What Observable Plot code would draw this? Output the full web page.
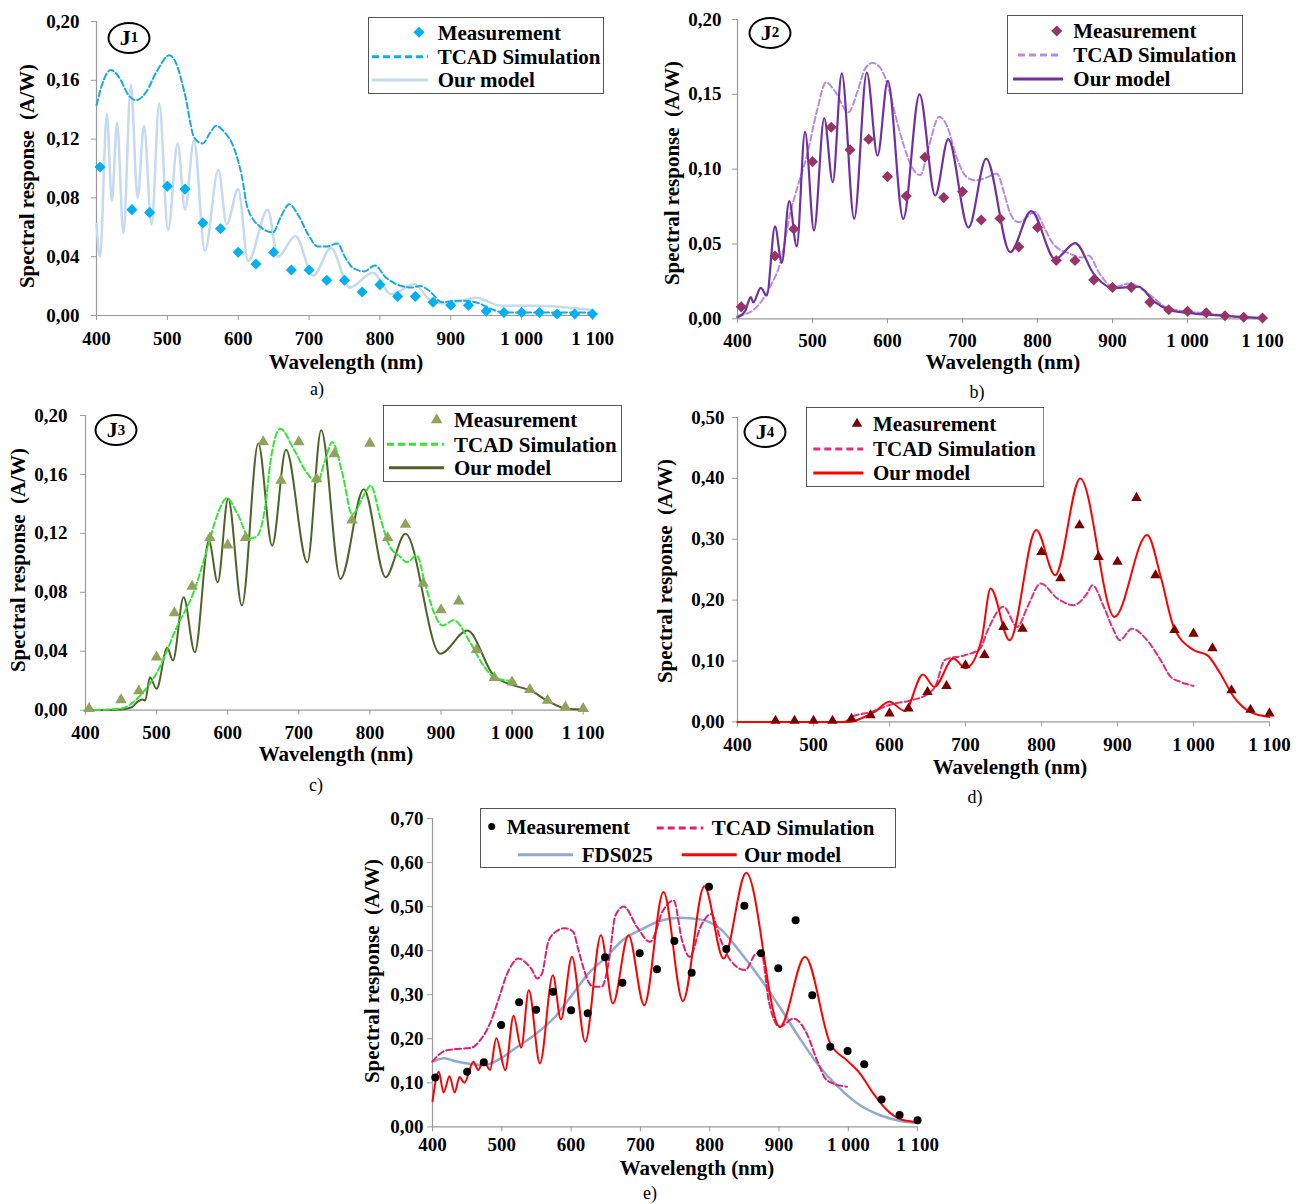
<!DOCTYPE html>
<html>
<head>
<meta charset="utf-8">
<script src="https://cdn.jsdelivr.net/npm/d3@7"></script>
<script src="https://cdn.jsdelivr.net/npm/@observablehq/plot@0.6"></script>
<style>
  body { margin: 0; background: #fff; }
  #page { position: relative; width: 1302px; height: 1204px; background: #fff; overflow: hidden;
          font-family: "Liberation Serif", "Times New Roman", serif; color: #000; }
  .xtitle, .ytitle { position: absolute; font-weight: bold; font-size: 21px; line-height: 1; white-space: pre; }
  .xtitle { transform: translate(-50%, -50%); }
  .ytitle { transform: translate(-50%, -50%) rotate(-90deg); }
  .cap { position: absolute; font-size: 18px; line-height: 1; transform: translate(-50%, -50%); }
  .jlab { position: absolute; width: 43px; height: 32px; border: 2px solid #000; border-radius: 50%;
          box-sizing: border-box; display: flex; align-items: center; justify-content: center;
          font-weight: bold; font-size: 22px; transform: translate(-50%, -50%); background: #fff; }
  .jlab sub { font-size: 15px; vertical-align: -6px; }
</style>
</head>
<body>
<div id="page"></div>
<script>
// ---- shared axis ticks ----
const xTicks = [400, 500, 600, 700, 800, 900, 1000, 1100];
const yTicksA = [0, 0.04, 0.08, 0.12, 0.16, 0.20];
const yTicksB = [0, 0.05, 0.10, 0.15, 0.20];
const yTicksC = [0, 0.04, 0.08, 0.12, 0.16, 0.20];
const yTicksD = [0, 0.10, 0.20, 0.30, 0.40, 0.50];
const yTicksE = [0, 0.10, 0.20, 0.30, 0.40, 0.50, 0.60, 0.70];

// ---- J1 : [wavelength nm, A/W] ----
const aMeas = [[405,0.101],[450,0.072],[475,0.070],[500,0.088],[525,0.086],[550,0.063],[575,0.059],[600,0.043],
  [625,0.035],[650,0.043],[675,0.031],[700,0.031],[725,0.024],[750,0.024],[775,0.016],[800,0.021],[825,0.013],
  [850,0.013],[875,0.009],[900,0.007],[925,0.007],[950,0.003],[975,0.002],[1000,0.002],[1025,0.002],[1050,0.001],
  [1075,0.001],[1100,0.001]];
const aTcad = [[400,0.143],[410,0.160],[420,0.167],[432,0.162],[445,0.150],[456,0.1465],[470,0.152],[485,0.166],
  [503,0.177],[512,0.172],[525,0.150],[538,0.121],[550,0.117],[560,0.124],[569,0.129],[580,0.125],[594,0.114],
  [605,0.095],[613,0.0735],[632,0.060],[649,0.0565],[660,0.067],[672,0.0757],[685,0.068],[700,0.054],[712,0.047],
  [725,0.047],[740,0.049],[751,0.0395],[763,0.032],[778,0.030],[793,0.034],[808,0.026],[825,0.021],[845,0.019],
  [857,0.020],[869,0.017],[888,0.009],[905,0.010],[916,0.010],[935,0.009],[959,0.004],[975,0.002],[1000,0.002],
  [1050,0.002],[1100,0.002]];
const aModel = [[400,0.062],[405,0.040],[414.6,0.137],[421.7,0.078],[429,0.131],[438,0.056],[448.5,0.157],[458,0.080],
  [467,0.129],[477.7,0.062],[488.5,0.144],[501,0.058],[514.5,0.117],[525,0.072],[537.5,0.119],[553,0.044],[572,0.099],
  [583.7,0.062],[600,0.086],[614,0.037],[641.6,0.072],[656,0.040],[680.7,0.054],[706,0.027],[731,0.046],[757,0.019],
  [790,0.029],[816,0.0145],[848.6,0.0213],[872,0.010],[895,0.008],[936,0.012],[971,0.0066],[1018,0.0066],[1100,0.0037]];

// ---- J2 ----
const bMeas = [[405,0.008],[450,0.042],[475,0.060],[500,0.105],[525,0.128],[550,0.113],[575,0.120],[600,0.095],
  [625,0.082],[650,0.108],[675,0.081],[700,0.085],[725,0.066],[750,0.067],[775,0.048],[800,0.061],[825,0.039],
  [850,0.039],[875,0.026],[900,0.021],[925,0.021],[950,0.011],[975,0.006],[1000,0.005],[1025,0.004],[1050,0.002],
  [1075,0.001],[1100,0.0005]];
const bTcad = [[400,0.002],[417,0.0045],[443,0.021],[459,0.041],[470,0.070],[480,0.088],[492,0.108],[506,0.139],
  [518,0.158],[530,0.152],[548,0.138],[560,0.152],[570,0.167],[580,0.171],[590,0.168],[601,0.155],[611,0.135],
  [621,0.117],[632,0.102],[644,0.096],[655,0.115],[669,0.135],[680,0.128],[692,0.108],[705,0.095],[717,0.0925],
  [730,0.094],[746,0.097],[755,0.085],[764,0.070],[775,0.0646],[797,0.0713],[810,0.060],[821,0.050],[843,0.0435],
  [860,0.041],[868,0.0423],[883,0.030],[901,0.021],[923,0.0236],[946,0.0174],[972,0.0076],[992,0.0053],[1020,0.004],
  [1050,0.002],[1100,0.000]];
const bModel = [[400,0.001],[410,0.005],[417.8,0.0145],[421,0.011],[431,0.0207],[439,0.0156],[450,0.0617],[459,0.0374],
  [469,0.0786],[479,0.0483],[490,0.125],[502,0.059],[515.6,0.134],[527,0.0913],[539,0.164],[555.6,0.0668],
  [572.4,0.1646],[586.7,0.109],[600.4,0.159],[621,0.0668],[642.7,0.150],[663.6,0.0824],[681,0.120],[708,0.061],
  [731.6,0.107],[763.6,0.0445],[791.6,0.072],[823.6,0.040],[850.3,0.0506],[875,0.030],[901,0.0205],[934.7,0.0214],
  [956,0.0113],[977,0.0058],[1000,0.004],[1050,0.002],[1100,0.0005]];

// ---- J3 ----
const cMeas = [[405,0.001],[450,0.007],[475,0.013],[500,0.036],[525,0.066],[550,0.084],[575,0.117],[600,0.112],
  [625,0.117],[650,0.182],[675,0.156],[700,0.182],[725,0.157],[750,0.174],[775,0.129],[800,0.181],[825,0.117],
  [850,0.126],[875,0.086],[900,0.068],[925,0.074],[950,0.041],[975,0.022],[1000,0.019],[1025,0.014],[1050,0.0066],
  [1075,0.002],[1100,0.001]];
const cTcad = [[400,0],[449,0.001],[477,0.010],[501,0.026],[529,0.057],[552,0.080],[571,0.109],[585,0.132],[599,0.144],
  [613,0.134],[632,0.1166],[641,0.118],[653,0.139],[660,0.168],[674,0.191],[693,0.177],[710,0.162],[726,0.1546],
  [736,0.168],[747,0.182],[761,0.1615],[775,0.133],[794,0.148],[801,0.1525],[815,0.130],[827,0.112],[843,0.104],
  [852,0.1004],[866,0.105],[878,0.085],[890,0.0665],[902,0.0575],[918,0.061],[941,0.046],[960,0.030],[979,0.0213],
  [998,0.020]];
const cModel = [[400,0],[450,0.0005],[465,0.002],[474,0.006],[480,0.0072],[484,0.0066],[490.5,0.0224],[500,0.0145],
  [515,0.0423],[523,0.0337],[538,0.0766],[553.8,0.0393],[573.5,0.115],[586,0.0868],[600.6,0.1437],[620,0.071],
  [643,0.181],[662.5,0.1117],[682,0.1767],[712,0.1003],[731.5,0.190],[758.6,0.0891],[791.4,0.150],[822,0.0903],
  [850,0.1197],[899,0.0383],[937,0.054],[974,0.0236],[1002,0.0168],[1026,0.0134],[1049,0.0066],[1077.5,0.001],
  [1100,0.0005]];

// ---- J4 ----
const dMeas = [[450,0.002],[475,0.002],[500,0.002],[525,0.002],[550,0.005],[575,0.011],[600,0.014],[625,0.022],
  [650,0.049],[675,0.059],[700,0.093],[725,0.110],[750,0.156],[775,0.153],[800,0.279],[825,0.236],[850,0.323],
  [875,0.271],[900,0.263],[925,0.368],[950,0.241],[975,0.151],[1000,0.145],[1025,0.121],[1050,0.052],[1075,0.020],
  [1100,0.014]];
const dTcad = [[400,0],[540,0],[550,0.008],[576,0.0164],[603,0.029],[629,0.0356],[651,0.0465],[660,0.0575],[673,0.102],
  [699,0.1095],[719,0.120],[729,0.150],[750,0.189],[768,0.156],[782,0.190],[799,0.2273],[821,0.2027],[842,0.1917],
  [860,0.211],[867,0.2245],[882,0.189],[895,0.1506],[903,0.134],[919,0.153],[939,0.134],[957,0.101],[970,0.074],
  [983,0.0657],[1000,0.059]];
const dModel = [[400,0],[545,0],[555,0.002],[567,0.008],[580,0.016],[600,0.033],[620,0.018],[644,0.078],[659,0.0575],
  [684,0.104],[700,0.088],[721,0.134],[733,0.219],[758,0.134],[793,0.315],[818,0.241],[851,0.400],[896,0.1725],
  [939,0.307],[957,0.238],[974,0.156],[1000,0.118],[1018,0.1096],[1035,0.080],[1053,0.041],[1075,0.016],[1100,0.008]];

// ---- J1 to J4 stack vs. FDS025 ----
const eMeas = [[404,0.112],[450,0.125],[474,0.147],[499,0.231],[525,0.283],[549.5,0.266],[574,0.307],[600,0.265],
  [624,0.258],[649,0.385],[674,0.327],[699,0.394],[724,0.358],[749,0.422],[774,0.350],[799,0.545],[824,0.404],
  [850,0.502],[874,0.394],[899,0.360],[924,0.469],[948,0.299],[974,0.182],[999,0.172],[1023,0.142],[1048,0.062],
  [1074,0.027],[1100,0.015]];
const eFds = [[400,0.148],[417,0.156],[433,0.149],[455,0.143],[476,0.141],[500,0.157],[519,0.178],[550,0.212],
  [577,0.250],[603,0.303],[625,0.348],[651,0.386],[675,0.425],[700,0.447],[729,0.468],[757,0.475],[786,0.471],
  [815,0.450],[844,0.397],[873,0.337],[901,0.272],[930,0.201],[959,0.136],[988,0.087],[1017,0.049],[1046,0.0265],
  [1075,0.0136],[1099,0.009]];
const eTcad = [[400,0.148],[410,0.165],[421,0.174],[445,0.178],[455,0.179],[469,0.197],[483,0.235],[495,0.288],
  [507,0.345],[514,0.367],[524,0.382],[535,0.372],[543,0.358],[551,0.337],[558,0.348],[567,0.420],[578,0.443],
  [591,0.451],[603,0.443],[610,0.405],[618,0.360],[625,0.329],[633,0.318],[644,0.318],[654,0.371],[664,0.480],
  [676,0.500],[695,0.454],[714,0.420],[733,0.492],[748,0.514],[760,0.424],[771,0.386],[787,0.455],[802,0.483],
  [816,0.424],[830,0.378],[851,0.356],[868,0.394],[875,0.392],[885,0.288],[901,0.227],[921,0.246],[940,0.212],
  [955,0.151],[969,0.106],[998,0.091]];
const eModel = [[400,0.058],[409,0.125],[416,0.078],[424.5,0.115],[432,0.078],[439,0.113],[446,0.100],[459,0.148],
  [466,0.129],[473.6,0.151],[483,0.129],[492,0.201],[505,0.129],[517,0.252],[528,0.180],[539,0.310],[555,0.144],
  [573.7,0.344],[585.3,0.244],[601.2,0.386],[620.4,0.193],[643,0.435],[660.3,0.280],[682.8,0.435],[705.5,0.276],
  [733.3,0.533],[761.3,0.286],[792.3,0.546],[820,0.382],[852.7,0.577],[901.4,0.227],[937.6,0.386],[974,0.189],
  [998,0.151],[1017,0.121],[1036,0.076],[1056,0.038],[1080,0.015],[1100,0.011]];

// ---- helpers ----
const page = document.getElementById("page");
const axisGrey = "#9a9a9a";
const fmtY = d => d3.format(".2f")(d).replace(".", ",");
const fmtX = d => d >= 1000 ? "1 " + String(d).slice(1) : String(d);
const px = d => d[0], py = d => d[1];

function panel({l, r, t, b, yMax, yTicks, padX, padY, layers}) {
  const ML = 80, MR = 20, MT = 12, MB = 45;
  const marks = [
    Plot.ruleY([0], {stroke: axisGrey, strokeWidth: 1.2}),
    Plot.ruleX([400], {stroke: axisGrey, strokeWidth: 1.2}),
    Plot.axisX({ticks: xTicks, tickFormat: fmtX, tickSize: 5, tickPadding: padX, stroke: axisGrey, fill: "#000", label: null}),
    Plot.axisY({ticks: yTicks, tickFormat: fmtY, tickSize: 5, tickPadding: padY, stroke: axisGrey, fill: "#000", label: null})
  ];
  for (const s of layers) {
    if (s.type === "line") {
      marks.push(Plot.line(s.data, {x: px, y: py, curve: "monotone-x", stroke: s.color,
        strokeWidth: s.width, strokeDasharray: s.dash}));
    } else {
      marks.push(Plot.dot(s.data, {x: px, y: py, symbol: s.symbol, r: s.r, fill: s.color}));
    }
  }
  const svg = Plot.plot({
    width: r - l + ML + MR, height: b - t + MT + MB,
    marginLeft: ML, marginRight: MR, marginTop: MT, marginBottom: MB,
    x: {domain: [400, 1100]}, y: {domain: [0, yMax]},
    style: {fontFamily: '"Liberation Serif", "Times New Roman", serif', fontSize: "19px",
            fontWeight: "bold", background: "transparent", overflow: "visible"},
    marks
  });
  svg.style.position = "absolute";
  svg.style.left = (l - ML) + "px";
  svg.style.top = (t - MT) + "px";
  svg.style.maxWidth = "none";
  page.appendChild(svg);
}

function legend(box, items) {
  const w = box.x1 - box.x0, h = box.y1 - box.y0;
  const svg = d3.select(page).append("svg").attr("width", w).attr("height", h)
    .style("position", "absolute").style("left", box.x0 + "px").style("top", box.y0 + "px");
  svg.append("rect").attr("x", 0.5).attr("y", 0.5).attr("width", w - 1).attr("height", h - 1)
    .attr("fill", "#fff").attr("stroke", "#555");
  for (const it of items) {
    const y = it.y - box.y0;
    if (it.line) svg.append("line").attr("x1", it.line[0] - box.x0).attr("x2", it.line[1] - box.x0)
      .attr("y1", y).attr("y2", y).attr("stroke", it.color).attr("stroke-width", it.width || 3)
      .attr("stroke-dasharray", it.dash || null);
    if (it.symbol) svg.append("path").attr("d", d3.symbol(it.symbol, Math.PI * it.r * it.r)())
      .attr("transform", `translate(${it.cx - box.x0},${y})`).attr("fill", it.color);
    svg.append("text").attr("x", it.tx - box.x0).attr("y", y).attr("dy", "0.35em").text(it.label)
      .style("font-family", '"Liberation Serif", "Times New Roman", serif')
      .style("font-weight", "bold").style("font-size", "21px");
  }
}

function addText(cls, x, y, html) {
  const el = document.createElement("div");
  el.className = cls;
  el.style.left = x + "px";
  el.style.top = y + "px";
  el.innerHTML = html;
  page.appendChild(el);
}

// ---- panels ----
const colA = {meas: "#00B0F0", tcad: "#18A8E4", model: "#C5D9F1"};
const colB = {meas: "#993366", tcad: "#B48CE0", model: "#7030A0"};
const colC = {meas: "#8FA35C", tcad: "#33E633", model: "#4F6228"};
const colD = {meas: "#7B0000", tcad: "#E0307A", model: "#FF0000"};
const colE = {meas: "#000000", tcad: "#E0206E", fds: "#91A9D1", model: "#FF0000"};

panel({l: 95.7, r: 591.7, t: 20.7, b: 314.7, yMax: 0.2, yTicks: yTicksA, padX: 11, padY: 12, layers: [
  {type: "line", data: aModel, color: colA.model, width: 2.5},
  {type: "line", data: aTcad, color: colA.tcad, width: 2, dash: "6,3"},
  {type: "dot", data: aMeas, color: colA.meas, symbol: "diamond2", r: 5}
]});
panel({l: 737.3, r: 1262.3, t: 19, b: 318.3, yMax: 0.2, yTicks: yTicksB, padX: 10, padY: 11, layers: [
  {type: "line", data: bTcad, color: colB.tcad, width: 2, dash: "6,3"},
  {type: "line", data: bModel, color: colB.model, width: 2.2},
  {type: "dot", data: bMeas, color: colB.meas, symbol: "diamond2", r: 5}
]});
panel({l: 85, r: 582.7, t: 415, b: 709.7, yMax: 0.2, yTicks: yTicksC, padX: 10, padY: 13, layers: [
  {type: "line", data: cModel, color: colC.model, width: 2},
  {type: "line", data: cTcad, color: colC.tcad, width: 2, dash: "6,3"},
  {type: "dot", data: cMeas, color: colC.meas, symbol: "triangle2", r: 5.5}
]});
panel({l: 737, r: 1269, t: 417.3, b: 721.7, yMax: 0.5, yTicks: yTicksD, padX: 11, padY: 8, layers: [
  {type: "line", data: dTcad, color: colD.tcad, width: 2, dash: "6,3"},
  {type: "line", data: dModel, color: colD.model, width: 2},
  {type: "dot", data: dMeas, color: colD.meas, symbol: "triangle2", r: 5}
]});
panel({l: 432.3, r: 917.4, t: 818.3, b: 1126.7, yMax: 0.7, yTicks: yTicksE, padX: 6, padY: 4, layers: [
  {type: "line", data: eFds, color: colE.fds, width: 2.5},
  {type: "line", data: eTcad, color: colE.tcad, width: 2, dash: "6,3"},
  {type: "line", data: eModel, color: colE.model, width: 2},
  {type: "dot", data: eMeas, color: colE.meas, symbol: "circle", r: 4}
]});

// ---- legends ----
legend({x0: 368, y0: 17, x1: 604, y1: 94}, [
  {y: 32.3, symbol: d3.symbolDiamond2, r: 5, cx: 419, color: colA.meas, tx: 437.7, label: "Measurement"},
  {y: 56.7, line: [372, 428], color: colA.tcad, dash: "7,4", tx: 437.7, label: "TCAD Simulation"},
  {y: 80, line: [372, 428], color: colA.model, tx: 437.7, label: "Our model"}
]);
legend({x0: 1007, y0: 15, x1: 1243, y1: 94}, [
  {y: 31, symbol: d3.symbolDiamond2, r: 5, cx: 1056.7, color: colB.meas, tx: 1073.3, label: "Measurement"},
  {y: 55, line: [1018, 1060], color: colB.tcad, dash: "7,4", tx: 1073.3, label: "TCAD Simulation"},
  {y: 79, line: [1013, 1063], color: colB.model, tx: 1073.3, label: "Our model"}
]);
legend({x0: 383, y0: 405, x1: 622, y1: 482}, [
  {y: 420, symbol: d3.symbolTriangle2, r: 5.5, cx: 436.7, color: colC.meas, tx: 454, label: "Measurement"},
  {y: 444.3, line: [387, 444], color: colC.tcad, dash: "7,4", tx: 454, label: "TCAD Simulation"},
  {y: 467.7, line: [389, 444], color: colC.model, tx: 454, label: "Our model"}
]);
legend({x0: 805.7, y0: 407.3, x1: 1044, y1: 487.3}, [
  {y: 424, symbol: d3.symbolTriangle2, r: 5, cx: 856.7, color: colD.meas, tx: 872.7, label: "Measurement"},
  {y: 449.3, line: [813, 863], color: colD.tcad, dash: "7,4", tx: 872.7, label: "TCAD Simulation"},
  {y: 473.3, line: [813, 863], color: colD.model, tx: 872.7, label: "Our model"}
]);
legend({x0: 480, y0: 808.3, x1: 896, y1: 868.3}, [
  {y: 826.7, symbol: d3.symbolCircle, r: 3.5, cx: 491.7, color: colE.meas, tx: 506.7, label: "Measurement"},
  {y: 828.3, line: [656.7, 703.3], color: colE.tcad, dash: "7,4", tx: 711.7, label: "TCAD Simulation"},
  {y: 855, line: [518, 573], color: colE.fds, tx: 581.7, label: "FDS025"},
  {y: 855, line: [681.7, 736.7], color: colE.model, tx: 744, label: "Our model"}
]);

// ---- junction badges ----
addText("jlab", 129, 37.5, "J<sub>1</sub>");
addText("jlab", 770, 32.5, "J<sub>2</sub>");
addText("jlab", 116, 430, "J<sub>3</sub>");
addText("jlab", 765, 432, "J<sub>4</sub>");

// ---- axis titles ----
const yTitle = "Spectral response  (A/W)";
const xTitle = "Wavelength (nm)";
addText("ytitle", 27, 176, yTitle);
addText("ytitle", 672, 173, yTitle);
addText("ytitle", 18, 560, yTitle);
addText("ytitle", 665, 571, yTitle);
addText("ytitle", 372, 971, yTitle);
addText("xtitle", 346, 362, xTitle);
addText("xtitle", 1003, 362, xTitle);
addText("xtitle", 336, 754, xTitle);
addText("xtitle", 1010, 767, xTitle);
addText("xtitle", 697, 1168, xTitle);

// ---- sub-figure captions ----
addText("cap", 317, 389, "a)");
addText("cap", 977, 392, "b)");
addText("cap", 316, 785, "c)");
addText("cap", 975, 797, "d)");
addText("cap", 650, 1193, "e)");
</script>
</body>
</html>
